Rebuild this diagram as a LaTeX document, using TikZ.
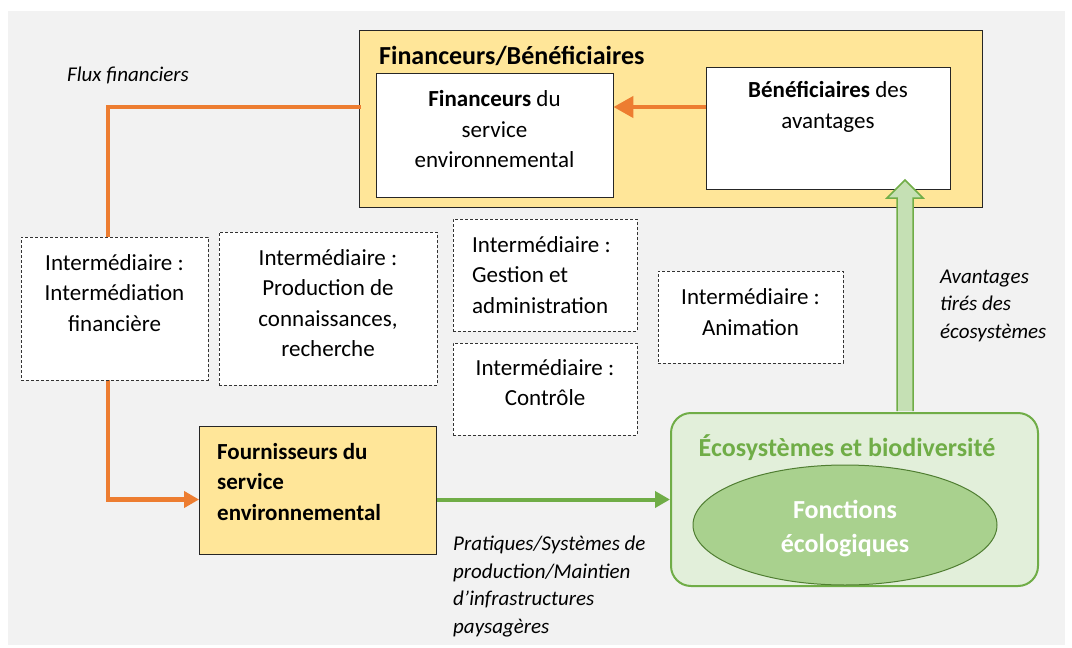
\documentclass[tikz,border=0pt]{standalone}
\usepackage{fontspec}
\setmainfont{Carlito}
\usetikzlibrary{calc}
\usetikzlibrary{arrows.meta}
\usetikzlibrary{shapes.geometric}

\definecolor{fondgris}{HTML}{F2F2F2}
\definecolor{jaune}{HTML}{FFE699}
\definecolor{orangeflux}{HTML}{ED7D31}
\definecolor{vert}{HTML}{70AD47}
\definecolor{vertclair}{HTML}{E2EFDA}
\definecolor{vertmoyen}{HTML}{A9D18E}
\definecolor{vertfonce}{HTML}{507E32}
\definecolor{vertfleche}{HTML}{C5E0B4}

\newcommand{\corps}{\fontsize{23}{30.5}\selectfont}

\begin{document}
\begin{tikzpicture}[x=1pt, y=-1pt,
    boite/.style={draw=black!85, line width=0.9pt, inner sep=0pt},
    interm/.style={draw=black!80, fill=white, line width=0.9pt, dash pattern=on 3pt off 2pt, inner sep=0pt},
    texte/.style={font=\corps, align=center, inner sep=0pt},
    titre/.style={font=\fontsize{26}{30}\selectfont\bfseries, inner sep=0pt},
    etiquette/.style={font=\fontsize{21}{27.5}\selectfont\itshape, align=left, inner sep=0pt, anchor=west},
    flux/.style={draw=orangeflux, line width=4.5pt, -{Triangle[length=15pt, width=16pt]}},
    pratique/.style={draw=vert, line width=4pt, -{Triangle[length=15pt, width=16pt]}}]
    \useasboundingbox (0,0) rectangle (1072,648);
    \fill[fondgris] (8,11) rectangle (1065,645);
    
    % financeurs / beneficiaires
    \node[boite, fill=jaune, minimum width=623pt, minimum height=177pt] (finben) at (670.5,118.5) {};
    \node[titre, anchor=west] (titrefb) at (379,56) {Financeurs/Bénéficiaires};
    \node[boite, fill=white, minimum width=237pt, minimum height=124pt] (financeurs) at (494.5,135) {};
    \node[texte] (txtfin) at (494.5,129.5) {\textbf{Financeurs} du\\service\\environnemental};
    \node[boite, fill=white, minimum width=244pt, minimum height=122pt] (benef) at (828,128) {};
    \node[texte] (txtbenef) at (828,107) {\textbf{Bénéficiaires} des\\avantages};
    
    % ecosystemes
    \node[draw=vert, fill=vertclair, line width=2pt, rounded corners=20pt, minimum width=367pt, minimum height=173pt] (eco) at (854.5,499.5) {};
    \node[titre, text=vert] (titreeco) at (847,448) {Écosystèmes et biodiversité};
    \node[ellipse, draw=vertfonce, fill=vertmoyen, line width=1pt, minimum width=304pt, minimum height=120pt] (fonctions) at (845,525) {};
    \node[texte, font=\fontsize{26}{34}\selectfont\bfseries, text=white] (txtfonc) at (845,529) {Fonctions\\écologiques};
    
    % fournisseurs
    \node[boite, fill=jaune, minimum width=237pt, minimum height=128pt] (fourn) at (318,490) {};
    \node[texte, font=\corps\bfseries, align=left, anchor=west] (txtfourn) at (217,482) {Fournisseurs du\\service\\environnemental};
    
    % flux financiers
    \coordinate (depart) at (361,107);
    \coordinate (coin) at (108,107);
    \draw[flux] (depart) -- (coin) |- (fourn.west |- eco.west);
    \draw[flux, -{Triangle[length=20pt, width=21pt]}] (benef.west |- depart) -- (financeurs.east |- depart);
    
    % intermediaires
    \foreach \nom/\x/\y/\w/\h in {inter1/114.5/308.5/187/143, inter2/328/308.5/218/153, inter3/545/275/184/112, inter4/545/389/184/92, inter5/750.5/317/185/92}{
      \node[interm, minimum width=\w pt, minimum height=\h pt] (\nom) at (\x,\y) {};
    }
    \node[texte] (txtinter1) at (114.5,293) {Intermédiaire :\\Intermédiation\\financière};
    \node[texte] (txtinter2) at (328,303) {Intermédiaire :\\Production de\\connaissances,\\recherche};
    \node[texte, align=left, anchor=west] (txtinter3) at (472,275) {Intermédiaire :\\Gestion et\\administration};
    \node[texte] (txtinter4) at (545,382.5) {Intermédiaire :\\Contrôle};
    \node[texte] (txtinter5) at (750.5,312) {Intermédiaire :\\Animation};
    
    % pratiques
    \draw[pratique] (fourn.east |- eco.west) -- (eco.west);
    
    % avantages
    \coordinate (avhaut) at (905,180);
    \coordinate (avbas) at (eco.north -| avhaut);
    \draw[draw=vert, fill=vertfleche, line width=1.5pt] ($(avbas)+(-8,-1)$) -- ($(avhaut)+(-8,18)$) -- ($(avhaut)+(-18,18)$) -- (avhaut) -- ($(avhaut)+(18,18)$) -- ($(avhaut)+(8,18)$) -- ($(avbas)+(8,-1)$);
    
    \node[etiquette] (lflux) at (67,75) {Flux financiers};
    \node[etiquette] (lavant) at (940,305.5) {Avantages\\tirés des\\écosystèmes};
    \node[etiquette] (lprat) at (453,586.5) {Pratiques/Systèmes de\\production/Maintien\\d’infrastructures\\paysagères};
\end{tikzpicture}
\end{document}
